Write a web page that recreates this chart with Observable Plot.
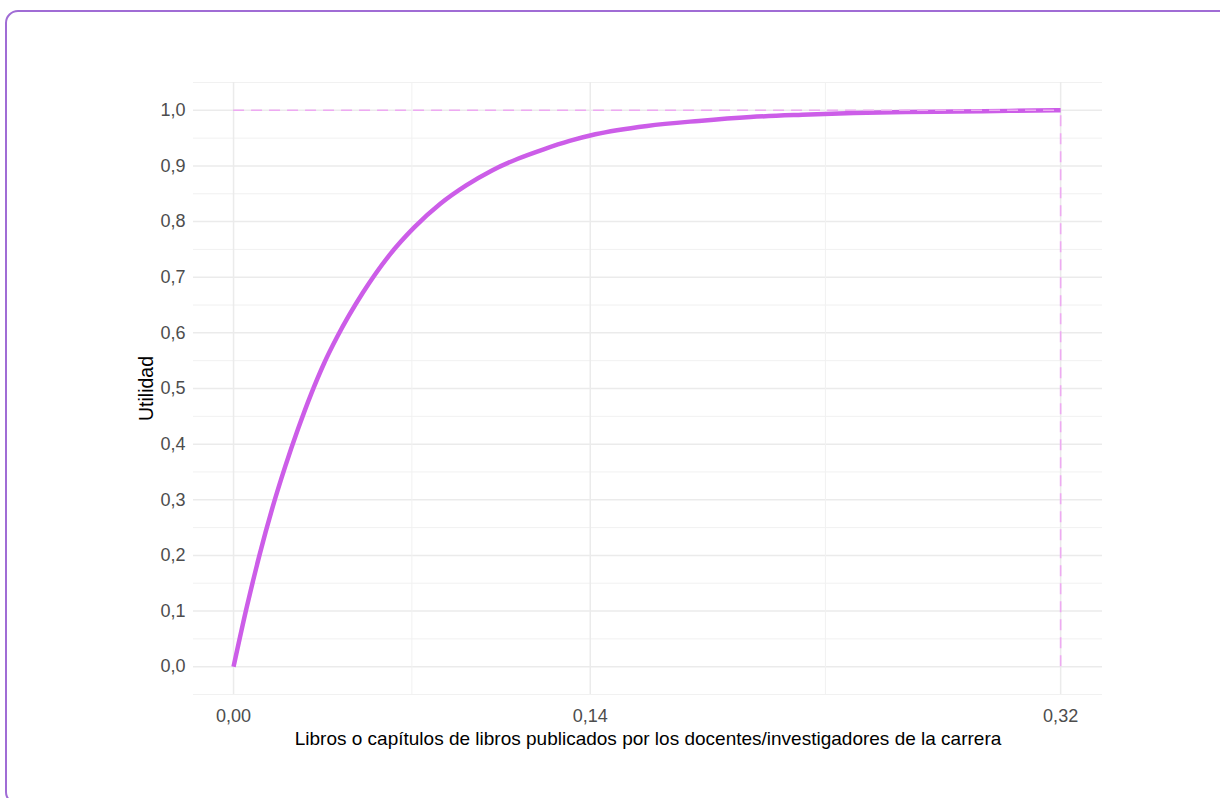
<!DOCTYPE html>
<html>
<head>
<meta charset="utf-8">
<script src="https://cdn.jsdelivr.net/npm/d3@7"></script>
<script src="https://cdn.jsdelivr.net/npm/@observablehq/plot@0.6"></script>
<style>
  html, body { margin: 0; padding: 0; width: 1220px; height: 798px; overflow: hidden; background: #fff; }
  #frame { position: absolute; left: 5px; top: 10px; width: 1250px; height: 795px; box-sizing: border-box;
           border: 2px solid #a06cd5; border-radius: 13px; }
  #chart { position: absolute; left: 0; top: 0; }
</style>
</head>
<body>
<div id="frame"></div>
<div id="chart"></div>
<script>
// Utility curve
const xValues = [0, 0.005, 0.01, 0.015, 0.02, 0.025, 0.03, 0.035, 0.04, 0.05, 0.06, 0.07, 0.08, 0.09, 0.10, 0.11, 0.12, 0.13, 0.14, 0.16, 0.18, 0.20, 0.22, 0.24, 0.26, 0.28, 0.30, 0.32];
const utilityValues = [0, 0.105, 0.20, 0.285, 0.36, 0.428, 0.49, 0.545, 0.592, 0.672, 0.738, 0.79, 0.832, 0.865, 0.892, 0.913, 0.93, 0.945, 0.957, 0.972, 0.981, 0.988, 0.992, 0.995, 0.997, 0.998, 0.999, 1.0];

const xTickValues = [0, 0.138, 0.32];
const xTickLabels = ["0,00", "0,14", "0,32"];
const xMinorValues = [0.069, 0.229];

const yTickValues = [0, 0.1, 0.2, 0.3, 0.4, 0.5, 0.6, 0.7, 0.8, 0.9, 1.0];
const yTickLabels = ["0,0", "0,1", "0,2", "0,3", "0,4", "0,5", "0,6", "0,7", "0,8", "0,9", "1,0"];
const yMinorValues = [-0.05, 0.05, 0.15, 0.25, 0.35, 0.45, 0.55, 0.65, 0.75, 0.85, 0.95, 1.05];

const maxX = [0.32];
const maxUtility = [1.0];

const xLabel = "Libros o capítulos de libros publicados por los docentes/investigadores de la carrera";
const yLabel = "Utilidad";

const data = xValues.map((x, i) => ({x, u: utilityValues[i]}));

const dashColor = "#eeaaf2";
const font = "'Liberation Sans', Arial, sans-serif";
const chart = Plot.plot({
  width: 1220,
  height: 798,
  marginLeft: 193,
  marginRight: 118,
  marginTop: 82,
  marginBottom: 104,
  style: {fontFamily: font, fontSize: "18px", background: "transparent"},
  x: {domain: [-0.0155, 0.3362]},
  y: {domain: [-0.05, 1.05]},
  marks: [
    Plot.ruleY(yMinorValues, {stroke: "#f1f1f1", strokeWidth: 1}),
    Plot.ruleY(yTickValues, {stroke: "#ebebeb", strokeWidth: 1.5}),
    Plot.ruleX(xMinorValues, {stroke: "#f1f1f1", strokeWidth: 1}),
    Plot.ruleX(xTickValues, {stroke: "#ebebeb", strokeWidth: 1.5}),
    Plot.line(data, {x: "x", y: "u", stroke: "#cc5de8", strokeWidth: 4.5, strokeLinecap: "butt", curve: "monotone-x"}),
    Plot.ruleY(maxUtility, {x1: 0, x2: maxX[0], stroke: dashColor, strokeWidth: 1.6, strokeDasharray: "11,7"}),
    Plot.ruleX(maxX, {y1: 0, y2: maxUtility[0], stroke: dashColor, strokeWidth: 1.6, strokeDasharray: "11,7"}),
    Plot.axisX(xTickValues, {tickSize: 0, tickPadding: 15, tickFormat: (d, i) => xTickLabels[i], fill: "#4d4d4d",
      fontSize: 18, label: null}),
    Plot.axisY(yTickValues, {tickSize: 0, tickPadding: 8, tickFormat: (d, i) => yTickLabels[i], fill: "#4d4d4d",
      fontSize: 18, label: null}),
    Plot.text([xLabel], {frameAnchor: "bottom", dy: 50, fontSize: 19, fill: "#000"}),
    Plot.text([yLabel], {frameAnchor: "left", textAnchor: "middle", dx: -47, rotate: -90, fontSize: 19.5, fill: "#000"})
  ]
});
document.getElementById("chart").append(chart);
</script>
</body>
</html>
